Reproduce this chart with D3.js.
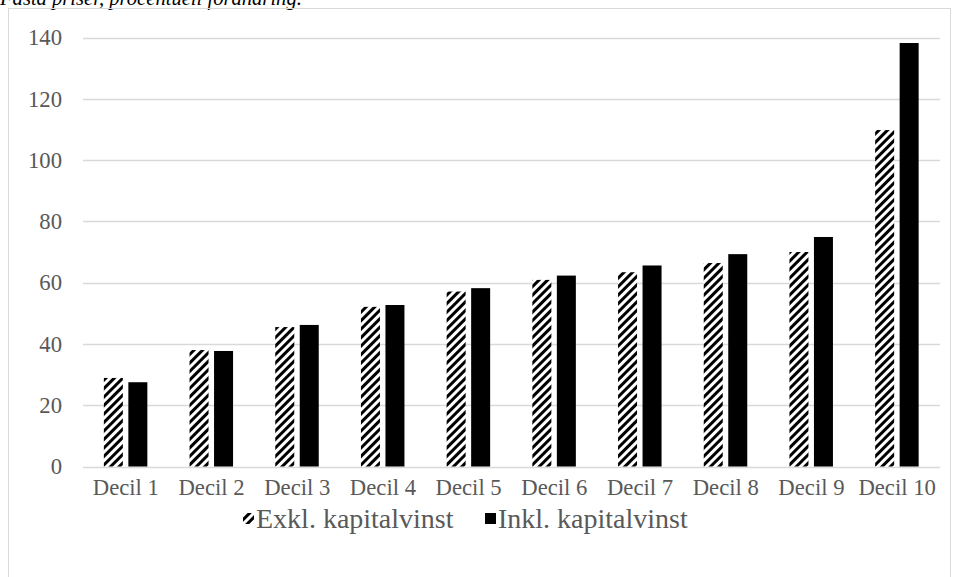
<!DOCTYPE html>
<html><head><meta charset="utf-8">
<script src="https://cdn.jsdelivr.net/npm/d3@7"></script>
<style>
html,body{margin:0;padding:0;background:#fff;}
svg{display:block;}
</style></head>
<body>
<svg id="chart" width="957" height="577"></svg>
<script>
const categories = ["Decil 1","Decil 2","Decil 3","Decil 4","Decil 5","Decil 6","Decil 7","Decil 8","Decil 9","Decil 10"];
const seriesNames = ["Exkl. kapitalvinst","Inkl. kapitalvinst"];
const exklValues = [28.9, 38.0, 45.5, 52.1, 57.1, 60.9, 63.4, 66.4, 70.0, 109.8];
const inklValues = [27.5, 37.7, 46.2, 52.7, 58.2, 62.3, 65.6, 69.3, 74.9, 138.2];
const yTicks = [0, 20, 40, 60, 80, 100, 120, 140];
const titleText = "Fasta priser, procentuell förändring.";

const svg = d3.select("#chart");
const font = "'Liberation Serif','Times New Roman',serif";
const textColor = "#595959";
const fs = 22.7;

const defs = svg.append("defs");
const pat = defs.append("pattern").attr("id","hatch")
  .attr("patternUnits","userSpaceOnUse").attr("width",6).attr("height",6)
  .attr("patternTransform","rotate(45)");
pat.append("rect").attr("width",6).attr("height",6).attr("fill","#fff");
pat.append("rect").attr("width",3).attr("height",6).attr("fill","#000");

// title (cut off at top in the reference)
svg.append("text").attr("x",0).attr("y",5)
  .attr("font-family",font).attr("font-style","italic").attr("font-size",20.6)
  .attr("fill","#000").text(titleText);

// chart border
svg.append("rect").attr("x",8.5).attr("y",8.5).attr("width",942).attr("height",620)
  .attr("fill","none").attr("stroke","#d9d9d9").attr("stroke-width",1);

const x0 = d3.scaleBand().domain(categories).range([83, 940]).paddingInner(0).paddingOuter(0);
const x1 = d3.scaleBand().domain(seriesNames)
  .range([x0.bandwidth()/2 - 22, x0.bandwidth()/2 + 21.5]).paddingInner(0.2245);
const y = d3.scaleLinear().domain([0,140]).range([466.5, 37.5]);

// gridlines
svg.append("g").selectAll("line").data(yTicks).join("line")
  .attr("x1",83).attr("x2",940)
  .attr("y1",d=>Math.round(y(d))+0.5).attr("y2",d=>Math.round(y(d))+0.5)
  .attr("stroke","#d9d9d9").attr("stroke-width",1.3);

// y axis labels
const yAxis = d3.axisLeft(y).tickValues(yTicks).tickSize(0).tickPadding(0);
const gy = svg.append("g").attr("transform","translate(62,0)").call(yAxis);
gy.select(".domain").remove();
gy.selectAll("text").attr("font-family",font).attr("font-size",fs).attr("fill",textColor);

// bars
const data = categories.map((c,i)=>({cat:c, vals:[{s:seriesNames[0],v:exklValues[i]},{s:seriesNames[1],v:inklValues[i]}]}));
const groups = svg.append("g").selectAll("g").data(data).join("g")
  .attr("transform",d=>`translate(${x0(d.cat)},0)`);
groups.selectAll("rect").data(d=>d.vals).join("rect")
  .attr("x",d=>x1(d.s)).attr("width",x1.bandwidth())
  .attr("y",d=>y(d.v)).attr("height",d=>y(0)-y(d.v))
  .attr("fill",(d,i)=>i===0?"url(#hatch)":"#000");

// x axis labels
const xAxis = d3.axisBottom(x0).tickSize(0).tickPadding(0);
const gx = svg.append("g").attr("transform","translate(0,478)").call(xAxis);
gx.select(".domain").remove();
gx.selectAll("text").attr("font-family",font).attr("font-size",fs).attr("fill",textColor).attr("dy","0.75em");

// legend
const legendItems = [{name:seriesNames[0], fill:"url(#hatch)", x:243},{name:seriesNames[1], fill:"#000", x:485}];
const lg = svg.append("g").selectAll("g").data(legendItems).join("g")
  .attr("transform",d=>`translate(${d.x},0)`);
lg.append("rect").attr("x",0).attr("y",513).attr("width",11).attr("height",11).attr("fill",d=>d.fill);
lg.append("text").attr("x",13).attr("y",528).attr("font-family",font).attr("font-size",28)
  .attr("fill",textColor).text(d=>d.name);
</script>
</body></html>
